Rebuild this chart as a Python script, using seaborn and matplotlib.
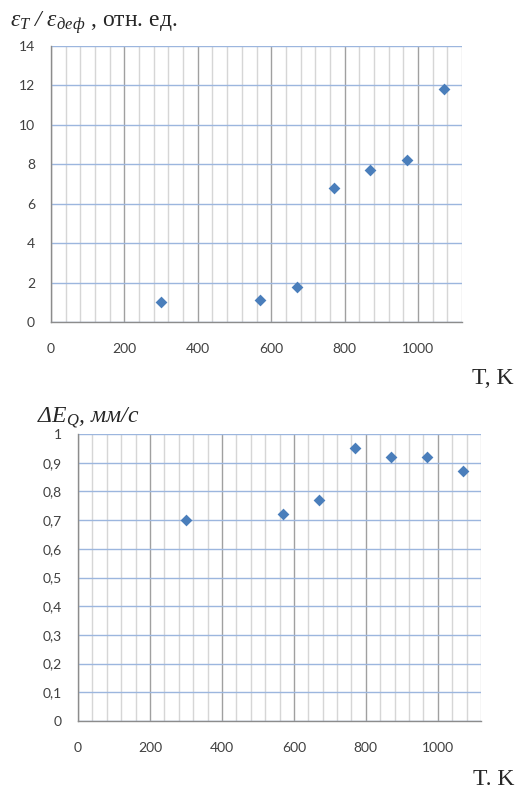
import matplotlib
matplotlib.use("Agg")
import matplotlib.pyplot as plt
import seaborn as sns
import pandas as pd
from matplotlib.ticker import MultipleLocator, FuncFormatter

# ------------------------------
# Data
# ------------------------------
temps = [300, 570, 670, 770, 870, 970, 1070]
eps_ratio = [1.0, 1.1, 1.8, 6.8, 7.7, 8.2, 11.8]
delta_eq = [0.70, 0.72, 0.77, 0.95, 0.92, 0.92, 0.87]

top_label = r"$\varepsilon_T\ /\ \varepsilon_{деф}$ , отн. ед."
top_xlabel = "T, K"
bottom_label = r"$\Delta E_Q$, мм/с"
bottom_xlabel = "T. K"

df_top = pd.DataFrame({"T": temps, "val": eps_ratio})
df_bot = pd.DataFrame({"T": temps, "val": delta_eq})

# ------------------------------
# Style
# ------------------------------
sns.set_style("white")
plt.rcParams["font.family"] = ["Lato", "DejaVu Sans"]
plt.rcParams["mathtext.fontset"] = "custom"
plt.rcParams["mathtext.rm"] = "Liberation Serif:italic"
plt.rcParams["mathtext.it"] = "Liberation Serif:italic"
plt.rcParams["mathtext.bf"] = "Liberation Serif:bold"

W, H = 519, 789
MARKER_COLOR = "#4a7ebb"
HGRID = "#9cb6de"
VMAJOR = "#a0a0a0"
VMINOR = "#d6d6d6"
AXIS = "#8c8c8c"

fig = plt.figure(figsize=(W / 100, H / 100), dpi=100)


def px_axes(left, top, right, bottom):
    return fig.add_axes([left / W, 1 - bottom / H, (right - left) / W, (bottom - top) / H])


def style_axes(ax, ymax, ystep, fmt):
    ax.set_xlim(0, 1120)
    ax.set_ylim(0, ymax)
    ax.xaxis.set_major_locator(MultipleLocator(200))
    ax.xaxis.set_minor_locator(MultipleLocator(40))
    ax.yaxis.set_major_locator(MultipleLocator(ystep))
    ax.yaxis.set_major_formatter(FuncFormatter(fmt))
    ax.grid(False)
    ax.grid(axis="x", which="major", color=VMAJOR, lw=1.0)
    ax.grid(axis="x", which="minor", color=VMINOR, lw=1.0)
    ax.grid(axis="y", which="major", color=HGRID, lw=1.0)
    ax.set_axisbelow(True)
    for s in ["top", "right"]:
        ax.spines[s].set_visible(False)
    for s in ["left", "bottom"]:
        ax.spines[s].set_color(AXIS)
        ax.spines[s].set_linewidth(1.0)
    ax.tick_params(which="major", direction="out", length=3.5, width=0.8,
                   color=AXIS, labelsize=10, labelcolor="#404040")
    ax.tick_params(axis="y", pad=8)
    ax.tick_params(axis="x", pad=11.5)
    ax.tick_params(which="minor", length=0)
    ax.set_xlabel("")
    ax.set_ylabel("")


# ------------------------------
# Top: eps_T / eps_def
# ------------------------------
ax1 = px_axes(51, 46, 462, 322)
sns.scatterplot(data=df_top, x="T", y="val", marker="D", s=36, color=MARKER_COLOR,
                linewidth=0, ax=ax1, zorder=3, clip_on=False)
style_axes(ax1, 14, 2, lambda v, p: f"{v:g}")

# ------------------------------
# Bottom: Delta E_Q
# ------------------------------
ax2 = px_axes(78, 434, 481, 721)
sns.scatterplot(data=df_bot, x="T", y="val", marker="D", s=36, color=MARKER_COLOR,
                linewidth=0, ax=ax2, zorder=3, clip_on=False)
style_axes(ax2, 1, 0.1, lambda v, p: f"{round(v, 1):g}".replace(".", ","))

# ------------------------------
# Labels
# ------------------------------
serif = "Liberation Serif"
fig.text(10 / W, 1 - 27 / H, top_label, family=serif, fontsize=17, ha="left", va="baseline")
fig.text(514 / W, 1 - 384 / H, top_xlabel, family=serif, fontsize=17, ha="right", va="baseline")
fig.text(37 / W, 1 - 422 / H, bottom_label, family=serif, style="italic", fontsize=17,
         ha="left", va="baseline")
fig.text(514 / W, 1 - 785 / H, bottom_xlabel, family=serif, fontsize=17, ha="right", va="baseline")

fig.savefig("out.png", dpi=100)
